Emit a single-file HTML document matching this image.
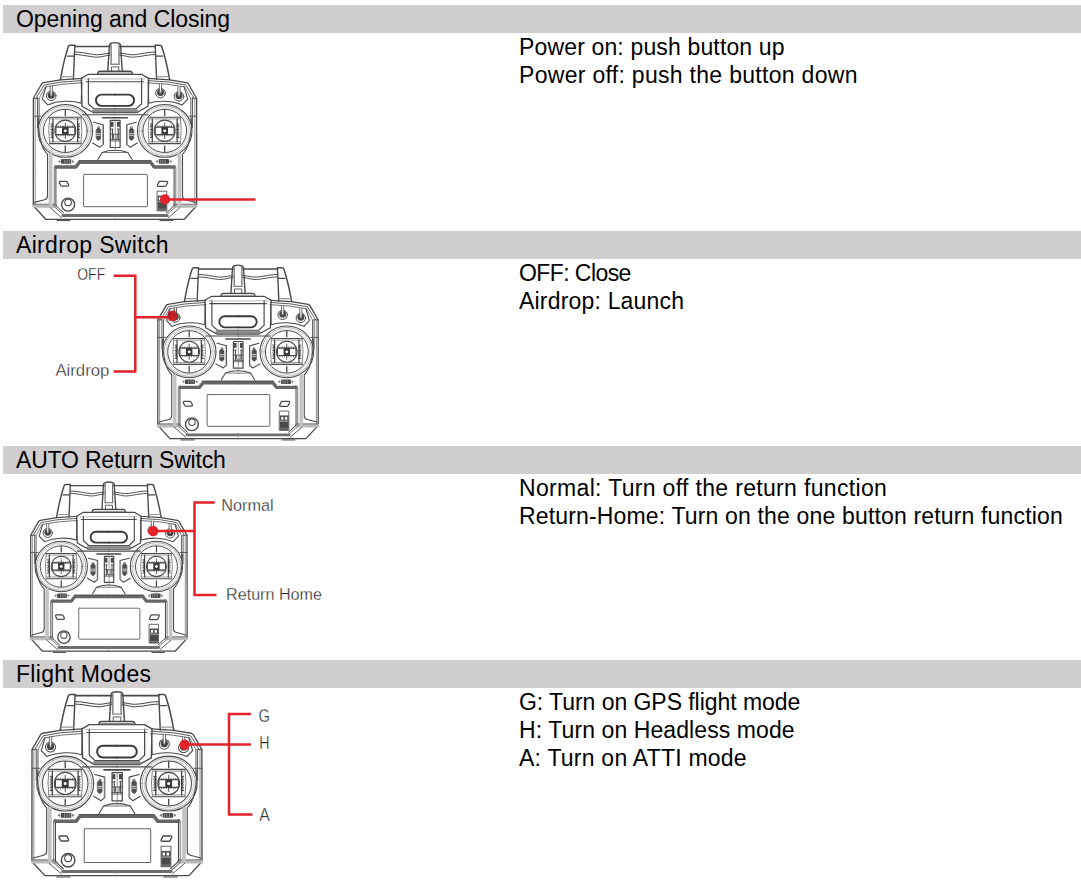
<!DOCTYPE html>
<html><head><meta charset="utf-8">
<style>
html,body{margin:0;padding:0;background:#fff;}
body{width:1081px;height:892px;position:relative;overflow:hidden;font-family:"Liberation Sans",sans-serif;color:#000;}
.bar{position:absolute;left:3px;width:1078px;height:28px;background:#d0cecf;}
.h{position:absolute;left:16px;font-size:23px;line-height:28px;white-space:nowrap;}
.t{position:absolute;left:519px;font-size:23px;line-height:28px;white-space:nowrap;}
svg{position:absolute;left:0;top:0;}
</style></head><body>
<div class="bar" style="top:5px"></div>
<div class="bar" style="top:231px"></div>
<div class="bar" style="top:446px"></div>
<div class="bar" style="top:660px"></div>
<div class="h" style="top:5px;letter-spacing:-0.04px">Opening and Closing</div>
<div class="h" style="top:231px;letter-spacing:0.33px">Airdrop Switch</div>
<div class="h" style="top:446px;letter-spacing:-0.19px">AUTO Return Switch</div>
<div class="h" style="top:660px;letter-spacing:0.31px">Flight Modes</div>
<div class="t" style="top:33px;letter-spacing:0.15px">Power on: push button up</div>
<div class="t" style="top:61px;letter-spacing:0.3px">Power off: push the button down</div>
<div class="t" style="top:259px;letter-spacing:-0.58px">OFF: Close</div>
<div class="t" style="top:287px;letter-spacing:0.19px">Airdrop: Launch</div>
<div class="t" style="top:474px;letter-spacing:0.33px">Normal: Turn off the return function</div>
<div class="t" style="top:502px;letter-spacing:0.16px">Return-Home: Turn on the one button return function</div>
<div class="t" style="top:688px;letter-spacing:-0.05px">G: Turn on GPS flight mode</div>
<div class="t" style="top:716px;letter-spacing:0.09px">H: Turn on Headless mode</div>
<div class="t" style="top:744px;letter-spacing:0.23px">A: Turn on ATTI mode</div>
<svg width="1081" height="892" viewBox="0 0 1081 892"><defs><g id="ctrl" fill="none" stroke="#4a4a4a" stroke-linejoin="round" stroke-linecap="round">
<g id="lh">
<path d="M60.4,79.6 Q63.8,60 68.3,46.5 Q68.7,45.3 70,45.3 L74.8,45.3" stroke-width="1.5"/>
<path d="M74.8,45.5 L73.4,79.4" stroke-width="1.4"/>
<path d="M67.2,56.1 H74.2" stroke-width="1.2"/>
<path d="M61.3,76.6 H73.2" stroke="#999" stroke-width="1.2"/>
<path d="M74.7,46.4 H110" stroke-width="1.5"/>
<path d="M75,52 C86,52.4 94,55.5 100,54.6 C104,54 107,53.4 110,53.3" stroke-width="1"/>
<path d="M75,54.5 C86,55 94,58 100,57 C104,56.3 107,55.3 110,55.2" stroke-width="1"/>
<path d="M82,78.4 L60.6,79.8 L43.6,82.6 Q42.2,82.9 41.6,84 L33.4,98.3 L33.3,205.8 L45.8,219.3 L115,219.3" stroke-width="1.3"/>
<path d="M82,80.6 L61,82.1 L44.2,85 L36.2,98" stroke-width="0.9"/>
<path d="M82.5,82.8 L62,84.3 L46,86.8" stroke-width="0.8"/>
<path d="M35.2,98.3 L35.2,205" stroke="#777" stroke-width="0.8"/>
<path d="M37.5,98 V128 M39.1,98.6 V123" stroke-width="0.9"/>
<path d="M45.2,86.9 L39.1,98.6" stroke-width="0.7"/>
<path d="M33.4,98.3 H37.6" stroke-width="0.9"/>
<path d="M33.4,116.2 H41" stroke-width="0.9"/>
<path d="M45.9,86.8 L42.3,99.2 L47.8,104.9 C58,100.6 72,100.2 81.2,103.2 L81.8,83" stroke-width="1.1"/>
<path d="M38.2,118 C38.6,138 41.8,149 47.5,154.2 L47.5,196 Q47.5,199 44.5,199.8 L34.5,202.4" stroke-width="1.1"/>
<path d="M34,206 H55.5" stroke="#b9b9b9" stroke-width="3.6"/>
<path d="M33.6,204.2 H55" stroke-width="0.7"/>
<ellipse cx="65.3" cy="130.9" rx="27.3" ry="26.4" stroke="#4a4a4a" stroke-width="1.1"/>
<ellipse cx="65.3" cy="130.9" rx="25.6" ry="24.9" stroke="#777" stroke-width="0.6"/>
<ellipse cx="65.3" cy="130.9" rx="23.6" ry="23.1" stroke="#aaa" stroke-width="0.5"/>
<ellipse cx="65.3" cy="130.9" rx="21.9" ry="21.6" stroke="#4a4a4a" stroke-width="1.0"/>
<path d="M65.3,109.6 V115.6 M65.3,145.8 V151.6" stroke-width="1.3"/>
<path d="M49.4,117.3 H81.2" stroke-width="1.1"/>
<path d="M50,118.9 H80.6 M50,141.8 H80.6" stroke="#777" stroke-width="0.8"/>
<path d="M49.4,143.6 H81.2" stroke-width="1.1"/>
<path d="M49.6,117.5 Q47.9,130.5 49.6,143.4 M81,117.5 Q82.7,130.5 81,143.4" stroke="#777" stroke-width="0.9"/>
<path d="M52.9,118.9 V141.8 M77.7,118.9 V141.8" stroke-width="1.3"/>
<path d="M52.9,124.00 h-2.0 M77.7,124.00 h2.0 M52.9,125.36 h-1.2 M77.7,125.36 h1.2 M52.9,126.72 h-2.0 M77.7,126.72 h2.0 M52.9,128.08 h-1.2 M77.7,128.08 h1.2 M52.9,129.44 h-2.0 M77.7,129.44 h2.0 M52.9,130.80 h-1.2 M77.7,130.80 h1.2 M52.9,132.16 h-2.0 M77.7,132.16 h2.0 M52.9,133.52 h-1.2 M77.7,133.52 h1.2 M52.9,134.88 h-2.0 M77.7,134.88 h2.0 M52.9,136.24 h-1.2 M77.7,136.24 h1.2 M52.9,137.60 h-2.0 M77.7,137.60 h2.0" stroke="#333" stroke-width="0.9"/>
<ellipse cx="65.3" cy="130.75" rx="10.45" ry="10.65" stroke-width="1.1"/>
<path d="M65.3,123 V138.5" stroke-width="0.9"/>
<rect x="55.9" y="127.1" width="18.9" height="7.5" fill="#fff" stroke-width="1.2"/>
<rect x="62" y="126.8" width="6.6" height="8.1" fill="#3a3a3a" stroke="none"/>
<circle cx="65.3" cy="130.85" r="1.45" fill="#fff" stroke="none"/>
<path d="M56.20,127.1 v-1.3 M56.20,134.6 v1.3 M58.50,127.1 v-1.3 M58.50,134.6 v1.3 M60.80,127.1 v-1.3 M60.80,134.6 v1.3 M63.10,127.1 v-1.3 M63.10,134.6 v1.3 M65.40,127.1 v-1.3 M65.40,134.6 v1.3 M67.70,127.1 v-1.3 M67.70,134.6 v1.3 M70.00,127.1 v-1.3 M70.00,134.6 v1.3 M72.30,127.1 v-1.3 M72.30,134.6 v1.3 M74.60,127.1 v-1.3 M74.60,134.6 v1.3" stroke-width="0.8"/>
<path d="M115,74.3 H88.4 L81.3,78.4 L82,106.3 L93.6,112.7 H115" stroke-width="1.3"/>
<path d="M115,81.8 H86.2" stroke-width="1.1"/>
<path d="M88.4,78.6 V103.7 L93.9,108.9 H115" stroke-width="1.2"/>
<path d="M93.5,110.8 H115" stroke="#8c8c8c" stroke-width="3"/>
<path d="M82,114.8 H115" stroke-width="1.1"/>
<path d="M102.6,117.8 H115" stroke-width="1.6"/>
<path d="M115,94.6 H101.6 A5.65,5.65 0 0 0 101.6,105.9 H115" stroke="#3a3a3a" stroke-width="1.9"/>
<path d="M93.7,122.2 L103.3,124.7 V144.3 L99.8,147.3 L92.6,143.1" stroke-width="1.1"/>
<path d="M102.6,125 V144" stroke="#999" stroke-width="0.7"/>
<path d="M96.3,129.6 Q98.5,126.5 100.7,129.6 V138.4 Q98.5,142.6 96.3,138.4 Z" fill="#505050" stroke-width="0.6"/>
<circle cx="98.5" cy="127.4" r="1" stroke-width="0.6"/>
<path d="M96.8,133.6 H100.2 M96.8,135.4 H100.2" stroke="#eee" stroke-width="0.8"/>
<path d="M97.9,159.5 L102.2,152.5 Q108,150.2 115,150.2" stroke-width="1.1"/>
<path d="M102.2,152.5 H115" stroke-width="0.7"/>
<path d="M115,162.3 H79.4 L75.9,167 H56" stroke="#666" stroke-width="3.4"/>
<path d="M115,160.6 H79" stroke-width="0.9"/>
<path d="M56.5,165.3 Q54.2,165.3 54.2,167.6 V206.6 L62.6,214.2" stroke="#777" stroke-width="1"/>
<path d="M55.9,168.4 V205.6 L63.6,212.8" stroke="#3f3f3f" stroke-width="1"/>
<path d="M115,215.4 H63" stroke="#6e6e6e" stroke-width="3"/>
<path d="M50.5,155 V204" stroke="#c4c4c4" stroke-width="3.8"/>
<path d="M50,207.6 L61.6,217.6" stroke-width="0.9"/>
<path d="M57,220.6 H70" stroke-width="1"/>
<path d="M60.3,159.9 L57.9,161.4 L60.3,162.9 Z M71.9,159.9 L74.4,161.4 L71.9,162.9 Z" fill="#777" stroke="none"/>
<rect x="61" y="159.1" width="10.2" height="4.6" rx="1" fill="#4a4a4a" stroke="none"/>
<path d="M64.6,160 V162.8 M67.1,160 V162.8 M69.3,160 V162.8" stroke="#bbb" stroke-width="0.6"/>
</g>
<use href="#lh" transform="translate(230,0) scale(-1,1)"/>
<path d="M107.8,70.7 L109.4,45.2 Q109.6,43.6 111.2,43.2 Q115,42 118.8,43.2 Q120.4,43.6 120.6,45.2 L122.2,70.7" stroke-width="1.4"/>
<path d="M111.1,44.6 V64.4 M119,44.6 V64.4" stroke-width="1"/>
<path d="M111.1,64.2 H119" stroke="#888" stroke-width="1.4"/>
<path d="M111.4,70.7 V66.9 H118.8 V70.7" stroke-width="0.9"/>
<path d="M97.6,74 Q98,71.3 100,71.3 H130 Q132,71.3 132.4,74" stroke-width="1.4"/>
<path d="M99.5,73.2 H130.5" stroke="#8a8a8a" stroke-width="1.2"/>
<path d="M85,78.9 H145" stroke="#999" stroke-width="0.7"/>
<rect x="110.3" y="120.3" width="9.8" height="27.2" fill="#fff" stroke-width="1.2"/>
<path d="M115.3,120.3 V150" stroke="#777" stroke-width="0.7"/>
<rect x="110.6" y="121.8" width="2.9" height="5" fill="#4a4a4a" stroke="none"/>
<rect x="117" y="121.8" width="2.9" height="5" fill="#4a4a4a" stroke="none"/>
<path d="M110.3,129.2 H113.2 M117.5,129.2 H120.1 M110.3,134.2 H120.1 M110.3,139.5 H120.1 M110.3,141 H120.1" stroke-width="0.8"/>
<path d="M112.4,129 V140 M118.3,129 V140" stroke-width="1.1"/>
<path d="M113.6,134.2 V138.4 Q115.3,141.4 117.1,138.4 V134.2" stroke-width="0.9"/>
<rect x="83.6" y="174.4" width="63.8" height="32.3" rx="0.8" stroke="#666" stroke-width="1"/>
<path d="M115,214 V219" stroke="#999" stroke-width="0.6"/>
<circle cx="51.2" cy="95.8" r="4.8" fill="#fff" stroke-width="1"/><circle cx="51.2" cy="95.2" r="3.5" fill="#454545" stroke="none"/><rect x="50.1" y="86.2" width="2.2" height="9.2" fill="#fff" stroke="none"/><path d="M50.1,86.2 V95.39999999999999 M52.300000000000004,86.2 V95.39999999999999" stroke-width="0.8"/><circle cx="51.2" cy="95.2" r="1" fill="#999" stroke="none"/>
<circle cx="160.5" cy="93.1" r="4.8" fill="#fff" stroke-width="1"/><circle cx="160.5" cy="92.5" r="3.5" fill="#454545" stroke="none"/><rect x="159.4" y="83.5" width="2.2" height="9.2" fill="#fff" stroke="none"/><path d="M159.4,83.5 V92.69999999999999 M161.6,83.5 V92.69999999999999" stroke-width="0.8"/><circle cx="160.5" cy="92.5" r="1" fill="#999" stroke="none"/>
<circle cx="179" cy="96.3" r="4.8" fill="#fff" stroke-width="1"/><circle cx="179" cy="95.7" r="3.5" fill="#454545" stroke="none"/><rect x="177.9" y="86.7" width="2.2" height="9.2" fill="#fff" stroke="none"/><path d="M177.9,86.7 V95.89999999999999 M180.1,86.7 V95.89999999999999" stroke-width="0.8"/><circle cx="179" cy="95.7" r="1" fill="#999" stroke="none"/>
<path d="M60.3,181.3 H66 Q66.7,181.3 67.1,181.9 L68.4,184.3 Q69,186.1 67.5,186.1 H61.8 Q61.2,186.1 60.8,185.5 L59.5,183.1 Q58.9,181.3 60.3,181.3 Z" stroke-width="1.3"/>
<path d="M159.9,181.3 H166.6 Q168.1,181.3 167.5,182.7 L166.2,185.5 Q165.8,186.3 165,186.3 H158.4 Q156.9,186.3 157.5,184.9 L158.8,182.1 Q159.2,181.3 159.9,181.3 Z" stroke-width="1.3"/>
<circle cx="68.1" cy="204.6" r="6.5" stroke-width="1.4"/>
<circle cx="68.1" cy="202.6" r="3.3" stroke-width="1.1"/>
<rect x="157.4" y="191.2" width="9.4" height="19.6" fill="#fff" stroke="#666" stroke-width="1"/>
<rect x="157.6" y="195.6" width="9" height="15" fill="#4a4a4a" stroke="none"/>
<rect x="158.9" y="197.1" width="2.3" height="2.9" fill="#fff" stroke="none"/>
<rect x="162.8" y="197.1" width="2.3" height="2.9" fill="#fff" stroke="none"/>
<rect x="157.8" y="200.8" width="8.6" height="1.4" fill="#9a9a9a" stroke="none"/>
<path d="M158,209.2 H166.2" stroke="#999" stroke-width="0.7"/>
</g></defs><use href="#ctrl"/>
<use href="#ctrl" transform="translate(238,268.8) scale(0.982) translate(-115,-46.3)"/>
<use href="#ctrl" transform="translate(108.85,485.5) scale(0.958) translate(-115,-46.3)"/>
<use href="#ctrl" transform="translate(116.95,695.5) scale(1.041) translate(-115,-46.3)"/>
<g fill="none" stroke="#e3222b" stroke-width="2.5">
<path d="M165,199.4 H255.5"/>
<path d="M113.6,275.7 H135.3 V371.5 H113.6 M135.3,317.2 H170"/>
<path d="M153.2,531.1 H194.5 M214.7,502.6 H194.5 V594.9 H216.5"/>
<path d="M184.7,744.6 H251 M251,713.9 H229 V814.6 H252.5"/>
</g>
<g fill="#e3222b">
<circle cx="165" cy="199.4" r="5.1"/>
<path d="M169,311.6 L174.6,310.8 L177,316.5 L175.2,320.8 L169.2,320.2 L167.6,316 Z" fill="#cf2029" stroke="#cf2029" stroke-width="0.8" stroke-linejoin="round"/><path d="M174.3,308.5 V316.5 M176.4,308.5 V316.5 M169.5,312 L167.8,318 M171.6,311.5 L169.8,318" stroke="#5a2020" stroke-width="0.6" fill="none" opacity="0.7"/>
<circle cx="153.2" cy="531.1" r="5.2"/>
<circle cx="184.7" cy="744.6" r="5.2"/>
</g>
<g font-family="Liberation Sans, sans-serif" fill="#2a2a2a" stroke="#fff" stroke-width="0.3" font-size="16.8">
<text x="77.2" y="280.3" textLength="28" lengthAdjust="spacingAndGlyphs">OFF</text>
<text x="55.4" y="375.7" textLength="54" lengthAdjust="spacingAndGlyphs">Airdrop</text>
<text x="221.2" y="510.5" textLength="52.4" lengthAdjust="spacingAndGlyphs">Normal</text>
<text x="226.1" y="600.1" textLength="95.8" lengthAdjust="spacingAndGlyphs">Return Home</text>
<text x="258.5" y="722.2" font-size="17.8" textLength="11.4" lengthAdjust="spacingAndGlyphs">G</text>
<text x="259.3" y="749.2" font-size="17.6" textLength="10.3" lengthAdjust="spacingAndGlyphs">H</text>
<text x="259.3" y="820.6" font-size="18" textLength="10.6" lengthAdjust="spacingAndGlyphs">A</text>
</g>
</svg>
</body></html>
